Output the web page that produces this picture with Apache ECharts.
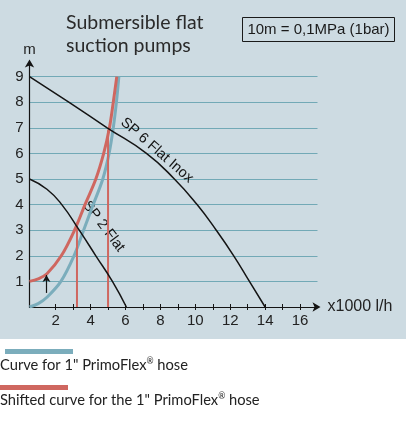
<!DOCTYPE html>
<html>
<head>
<meta charset="utf-8">
<script src="https://cdn.jsdelivr.net/npm/echarts@6/dist/echarts.min.js"></script>
<style>
  html, body { margin: 0; padding: 0; background: #fff; }
  #chart { width: 406px; height: 430px; background: linear-gradient(#cddbe2 0, #cddbe2 339px, #fff 339px); }
</style>
</head>
<body>
<div id="chart"></div>
<script>
// pump curves, flow in x1000 l/h, head in m
var sp2Flow = [0.5, 1.5, 2.35, 3.35, 4.3, 5.25, 6.05];
var sp2Head = [5, 4.6, 4, 3, 2, 1, 0];
var sp6Flow = [0.5, 2.75, 4.95, 7.2, 8.8, 10.1, 11.2, 12.2, 13.1, 14];
var sp6Head = [9, 8, 7, 6, 5, 4, 3, 2, 1, 0];

// hose curves
var hoseFlow = [0.5, 1.0, 1.5, 2.3, 3.05, 3.6, 4.15, 4.7, 5.06, 5.3, 5.48, 5.62];
var hoseHead = [0, 0.13, 0.38, 1, 2, 3, 4, 5, 6, 7, 8, 9];
var shiftFlow = [0.5, 1.0, 1.5, 2.32, 3.08, 3.68, 4.3, 4.75, 5.08, 5.3, 5.5];
var shiftHead = [1, 1.1, 1.3, 2, 3, 4, 5, 6, 7, 8, 9];

// operating points (shifted curve x pump curves)
var opFlow = [3.22, 5.0];
var opHead = [3.3, 6.9];

// the little "shift" arrow
var arrowFlow = 1.47;
var arrowHead = [0.55, 1.25];

var xTicks = [2, 3, 4, 5, 6, 7, 8, 9, 10, 11, 12, 13, 14, 15, 16];
var xLabels = [2, 4, 6, 8, 10, 12, 14, 16];
var yLabels = [1, 2, 3, 4, 5, 6, 7, 8, 9];

var pumpNames = ['SP 2 Flat', 'SP 6 Flat Inox'];
var legendNames = ['Curve for 1" PrimoFlex{r|®} hose', 'Shifted curve for the 1" PrimoFlex{r|®} hose'];

var BLUE = '#7badbc';
var RED = '#cf6760';
var INK = '#141414';
var GRID = '#72a9b6';

function pairs(xs, ys) {
  return xs.map(function (x, i) { return [x, ys[i]]; });
}

var chart = echarts.init(document.getElementById('chart'));

var curve = { type: 'line', smooth: 0.35, showSymbol: false, silent: true };

var series = [
  Object.assign({}, curve, {
    name: 'hose',
    data: pairs(hoseFlow, hoseHead),
    lineStyle: { color: BLUE, width: 3 },
    markLine: {
      silent: true, symbol: ['none', 'arrow'], symbolSize: [6, 7],
      label: { show: false },
      lineStyle: { color: INK, width: 1.2, type: 'solid' },
      data: [[{ coord: [arrowFlow, arrowHead[0]] }, { coord: [arrowFlow, arrowHead[1]] }]]
    }
  }),
  Object.assign({}, curve, {
    name: 'shifted',
    data: pairs(shiftFlow, shiftHead),
    lineStyle: { color: RED, width: 3 }
  })
];
opFlow.forEach(function (f, i) {
  series.push({
    type: 'line', showSymbol: false, silent: true,
    data: [[f, 0], [f, opHead[i]]],
    lineStyle: { color: RED, width: 2 }
  });
});
series.push(Object.assign({}, curve, {
  name: pumpNames[0], smooth: true,
  data: pairs(sp2Flow, sp2Head),
  lineStyle: { color: INK, width: 1.5 }
}));
series.push(Object.assign({}, curve, {
  name: pumpNames[1], smooth: true,
  data: pairs(sp6Flow, sp6Head),
  lineStyle: { color: INK, width: 1.5 }
}));

var tickFont = { fontFamily: 'Liberation Sans', fontSize: 15, color: '#222' };

chart.setOption({
  animation: false,
  title: {
    text: 'Submersible flat\nsuction pumps',
    left: 66, top: 11, padding: 0,
    textStyle: { fontFamily: 'Lato', fontWeight: 'normal', fontSize: 19.5, lineHeight: 23, color: '#2a2a2a' }
  },
  grid: { left: 29.5, right: 88.5, top: 62.5, bottom: 123 },
  xAxis: [
    {
      type: 'value', min: 0.5, max: 17, position: 'bottom',
      name: 'x1000 l/h', nameLocation: 'end', nameGap: 10,
      nameTextStyle: { fontFamily: 'Liberation Sans', fontSize: 16, color: '#222', verticalAlign: 'middle' },
      axisLine: { lineStyle: { color: INK, width: 1.2 }, symbol: ['none', 'arrow'], symbolSize: [7, 8], symbolOffset: [0, 3] },
      axisTick: { customValues: xTicks, length: 3, lineStyle: { color: INK } },
      axisLabel: Object.assign({ customValues: xLabels, margin: 6 }, tickFont),
      splitLine: { show: false }
    },
    {
      type: 'value', min: 0.5, max: 17, position: 'bottom',
      axisLine: { show: false },
      axisTick: { customValues: xTicks, inside: true, length: 3, lineStyle: { color: INK } },
      axisLabel: { show: false },
      splitLine: { show: false }
    }
  ],
  yAxis: {
    type: 'value', min: 0, max: 9.55,
    name: 'm', nameLocation: 'end', nameGap: 5,
    nameTextStyle: { fontFamily: 'Liberation Sans', fontSize: 15, color: '#222' },
    axisLine: { show: true, lineStyle: { color: INK, width: 1.2 }, symbol: ['none', 'arrow'], symbolSize: [7, 8], symbolOffset: [0, 3] },
    axisTick: { show: false, customValues: yLabels },
    axisLabel: Object.assign({ customValues: yLabels, margin: 6 }, tickFont),
    splitLine: { show: true, lineStyle: { color: GRID, width: 1 } }
  },
  series: series
});

// curve labels, placed in data space then rotated along the curves
var labelPos = [[4.75, 3.15], [7.8, 6.12]];
var labelAngle = [-53, -41];
var labels = pumpNames.map(function (n, i) {
  var p = chart.convertToPixel({ gridIndex: 0 }, labelPos[i]);
  return {
    type: 'text', x: p[0], y: p[1], rotation: labelAngle[i] * Math.PI / 180,
    style: { text: n, fontFamily: 'Liberation Sans', fontSize: 14.5, fill: INK, align: 'center', verticalAlign: 'middle' }
  };
});

var legendText = { fontFamily: 'Lato', fontSize: 14.7, fill: '#222', verticalAlign: 'middle' };
var sup = { r: { fontFamily: 'Lato', fontSize: 8.5, fill: '#222', padding: [0, 0, 7, 0] } };

chart.setOption({
  graphic: [
    {
      type: 'rect', shape: { x: 242.5, y: 17.5, width: 152, height: 24 },
      style: { fill: 'none', stroke: '#1a1a1a', lineWidth: 1 }
    },
    {
      type: 'text', x: 318.5, y: 30,
      style: { text: '10m = 0,1MPa (1bar)', fontFamily: 'Liberation Sans', fontSize: 15, fill: '#1a1a1a', align: 'center', verticalAlign: 'middle' }
    },
    { type: 'rect', shape: { x: 5, y: 349, width: 68, height: 5 }, style: { fill: BLUE } },
    { type: 'rect', shape: { x: 0, y: 385, width: 68, height: 5 }, style: { fill: RED } },
    { type: 'text', x: 0, y: 365, style: Object.assign({ text: legendNames[0], rich: sup }, legendText) },
    { type: 'text', x: 0, y: 400, style: Object.assign({ text: legendNames[1], rich: sup }, legendText) }
  ].concat(labels)
});
</script>
</body>
</html>
